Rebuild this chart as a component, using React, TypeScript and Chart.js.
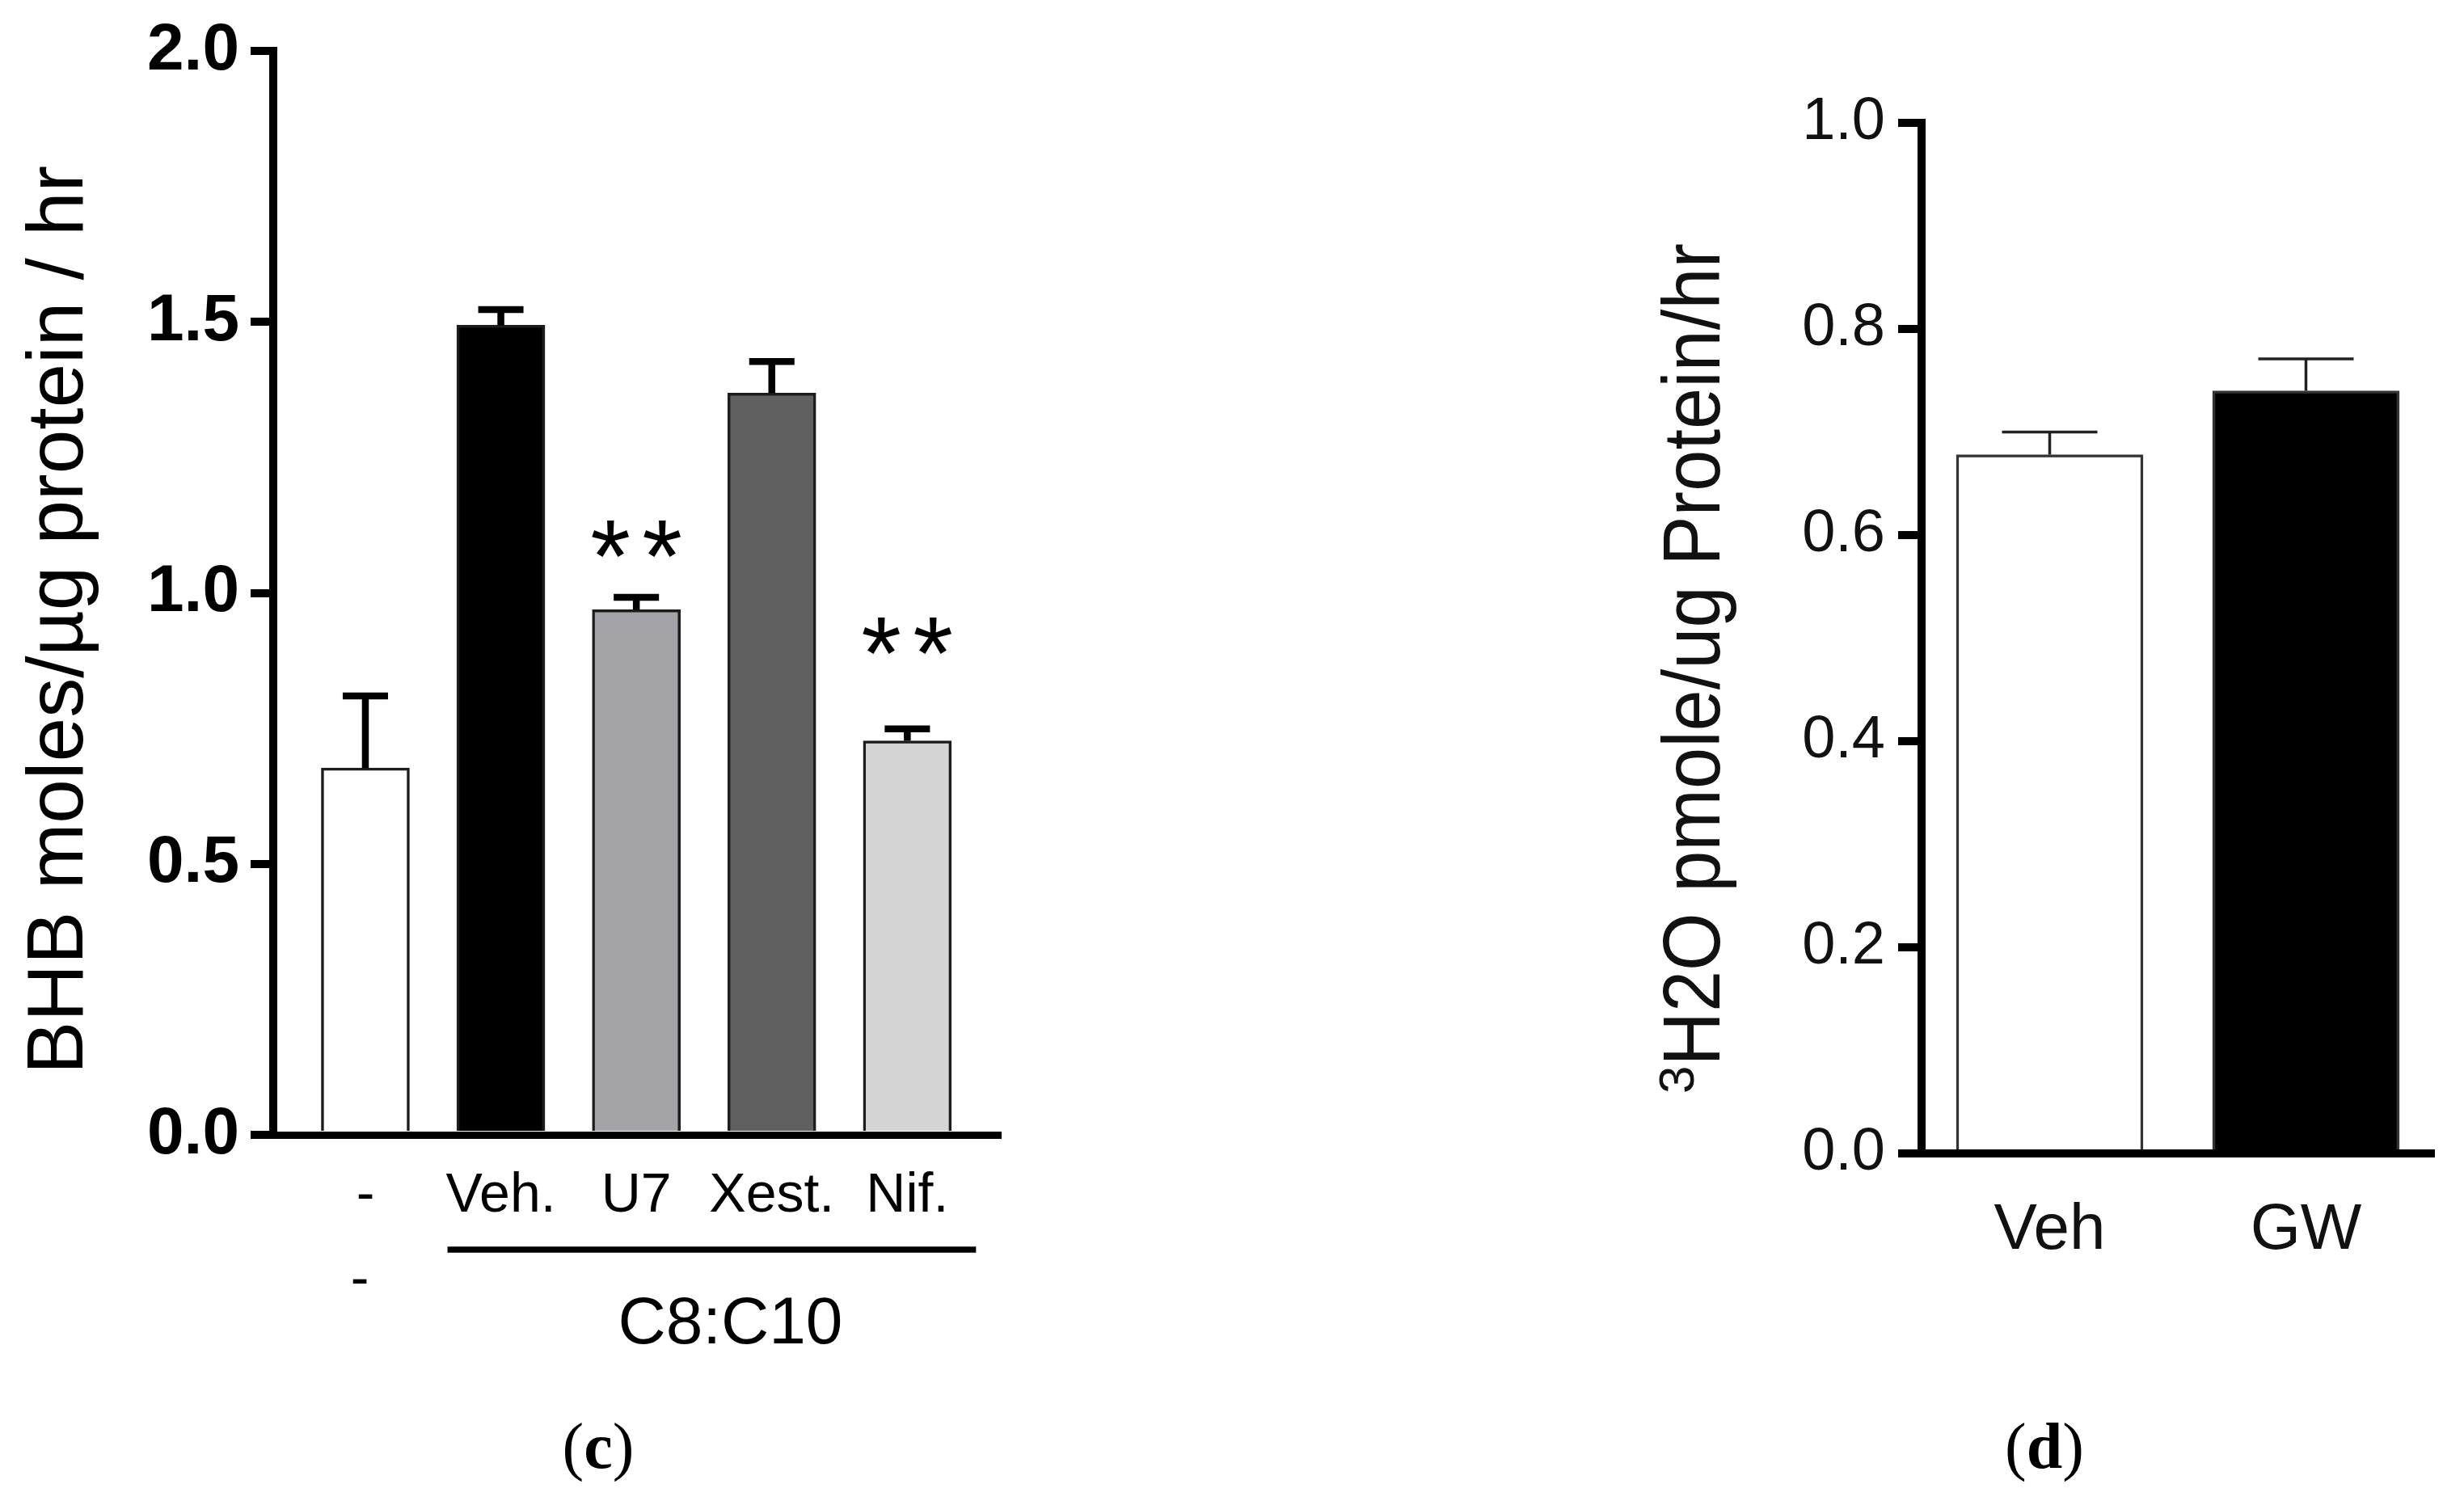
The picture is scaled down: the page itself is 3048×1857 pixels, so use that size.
import React, { useEffect, useRef } from 'react';
import { Chart, registerables } from 'chart.js';

Chart.register(...registerables);

const SANS = "'Liberation Sans', Arial, sans-serif";
const SERIF = "'Liberation Serif', 'Times New Roman', serif";

// panel (c): BHB production
const groupsC = ['-', 'Veh.', 'U7', 'Xest.', 'Nif.'];
const meanC = [0.677, 1.494, 0.969, 1.369, 0.727];
const errTopC = [0.81, 1.523, 0.992, 1.427, 0.749];
const sigC: (number | null)[] = [null, null, 1.1, null, 0.92];
const ticksC = [0, 0.5, 1.0, 1.5, 2.0];
const fillC = ['#ffffff', '#000000', '#a3a3a8', '#606060', '#d4d4d4'];

// panel (d): 3H2O release
const groupsD = ['Veh', 'GW'];
const meanD = [0.678, 0.74];
const errTopD = [0.7, 0.771];
const ticksD = [0, 0.2, 0.4, 0.6, 0.8, 1.0];
const fillD = ['#ffffff', '#000000'];

// error bars (upper half only, like Prism)
const makeErrorBars = (tops: number[], lineWidth: number, cap: number, color: string) => ({
  id: 'errorBars',
  afterDatasetsDraw(chart: any) {
    const { ctx } = chart;
    const y = chart.scales.y;
    const meta = chart.getDatasetMeta(0);
    ctx.save();
    ctx.strokeStyle = color;
    ctx.lineWidth = lineWidth;
    meta.data.forEach((bar: any, i: number) => {
      const top = y.getPixelForValue(tops[i]);
      ctx.beginPath();
      ctx.moveTo(bar.x, bar.y);
      ctx.lineTo(bar.x, top);
      ctx.moveTo(bar.x - cap / 2, top);
      ctx.lineTo(bar.x + cap / 2, top);
      ctx.stroke();
    });
    ctx.restore();
  },
});

const drawPanelLetter = (ctx: CanvasRenderingContext2D, letter: string, cx: number, baseline: number) => {
  const normal = `80px ${SERIF}`;
  const bold = `bold 80px ${SERIF}`;
  ctx.font = normal;
  const wp = ctx.measureText('(').width;
  const wq = ctx.measureText(')').width;
  ctx.font = bold;
  const wl = ctx.measureText(letter).width;
  let x = cx - (wp + wl + wq) / 2;
  ctx.textAlign = 'left';
  ctx.textBaseline = 'alphabetic';
  ctx.font = normal;
  ctx.fillText('(', x, baseline);
  x += wp;
  ctx.font = bold;
  ctx.fillText(letter, x, baseline);
  x += wl;
  ctx.font = normal;
  ctx.fillText(')', x, baseline);
};

const extrasC = {
  id: 'extrasC',
  afterDraw(chart: any) {
    const { ctx } = chart;
    const xs = chart.scales.x;
    const ys = chart.scales.y;
    const meta = chart.getDatasetMeta(0);
    ctx.save();
    ctx.fillStyle = '#000';
    ctx.strokeStyle = '#000';

    // y title
    ctx.save();
    ctx.translate(102, 767);
    ctx.rotate(-Math.PI / 2);
    ctx.font = `98px ${SANS}`;
    ctx.textAlign = 'center';
    ctx.textBaseline = 'alphabetic';
    ctx.fillText('BHB moles/µg protein / hr', 0, 0);
    ctx.restore();

    // significance stars
    ctx.font = `100px ${SANS}`;
    const m0 = ctx.measureText('*');
    const size = (100 * 46) / (m0.actualBoundingBoxAscent + m0.actualBoundingBoxDescent);
    ctx.font = `${size}px ${SANS}`;
    const m = ctx.measureText('*');
    ctx.textAlign = 'left';
    ctx.textBaseline = 'alphabetic';
    sigC.forEach((lvl, i) => {
      if (lvl == null) return;
      const cy = ys.getPixelForValue(lvl);
      const bx = meta.data[i].x;
      [-32, 32].forEach((dx) => {
        const x = bx + dx - (m.actualBoundingBoxRight - m.actualBoundingBoxLeft) / 2;
        const y = cy + (m.actualBoundingBoxAscent - m.actualBoundingBoxDescent) / 2;
        ctx.fillText('*', x, y);
      });
    });

    // treatment bracket
    const x1 = xs.getPixelForValue(1) - 66;
    const x2 = xs.getPixelForValue(4) + 85;
    ctx.lineWidth = 7.5;
    ctx.beginPath();
    ctx.moveTo(x1, 1546);
    ctx.lineTo(x2, 1546);
    ctx.stroke();

    ctx.textAlign = 'center';
    ctx.font = `68px ${SANS}`;
    ctx.fillText('-', xs.getPixelForValue(0) - 7, 1604);
    ctx.font = `82px ${SANS}`;
    ctx.fillText('C8:C10', (x1 + x2) / 2 + 23, 1662);

    drawPanelLetter(ctx, 'c', 740, 1816);
    ctx.restore();
  },
};

const extrasD = {
  id: 'extrasD',
  afterDraw(chart: any) {
    const { ctx } = chart;
    ctx.save();
    ctx.fillStyle = '#111';
    ctx.translate(127, 1353);
    ctx.rotate(-Math.PI / 2);
    ctx.textAlign = 'left';
    ctx.textBaseline = 'alphabetic';
    ctx.font = `62px ${SANS}`;
    ctx.fillText('3', 0, -32);
    const w3 = ctx.measureText('3').width;
    ctx.translate(w3, 0);
    ctx.scale(0.92, 1);
    ctx.font = `100px ${SANS}`;
    ctx.fillText('H2O pmole/ug Protein/hr', 0, 0);
    ctx.restore();

    ctx.save();
    ctx.fillStyle = '#000';
    drawPanelLetter(ctx, 'd', 529, 1816);
    ctx.restore();
  },
};

const PanelC = () => {
  const ref = useRef<HTMLCanvasElement>(null);
  const inst = useRef<Chart | null>(null);

  useEffect(() => {
    if (!ref.current) return;
    inst.current = new Chart(ref.current, {
      type: 'bar',
      data: {
        datasets: [
          {
            data: meanC.map((v, i) => ({ x: i, y: v })),
            backgroundColor: fillC,
            borderColor: '#1c1c1c',
            borderWidth: 3.5,
            barThickness: 109,
          },
        ],
      },
      options: {
        responsive: false,
        animation: false,
        layout: { padding: { top: 62.5, left: 0, right: 62, bottom: 303 } },
        plugins: { legend: { display: false }, tooltip: { enabled: false } },
        scales: {
          x: {
            type: 'linear',
            offset: false,
            min: -0.68,
            max: 4.69,
            afterBuildTicks: (s: any) => {
              s.ticks = groupsC.map((_, i) => ({ value: i }));
            },
            afterFit: (s: any) => {
              s.height = 150;
            },
            ticks: {
              autoSkip: false,
              maxRotation: 0,
              padding: 35,
              color: '#000',
              font: { family: SANS, size: 68 },
              callback: (v: any) => groupsC[v] ?? '',
            },
            grid: { display: false, drawTicks: false, tickLength: 0, offset: false },
            border: { display: true, color: '#000', width: 9 },
            z: 1,
          },
          y: {
            min: 0,
            max: 2,
            afterBuildTicks: (s: any) => {
              s.ticks = ticksC.map((v) => ({ value: v }));
            },
            afterFit: (s: any) => {
              s.width = 338;
            },
            ticks: {
              color: '#000',
              padding: 14,
              font: { family: SANS, size: 82, weight: 'bold' },
              callback: (v: any) => Number(v).toFixed(1),
            },
            grid: { drawOnChartArea: false, drawTicks: true, tickLength: 28, lineWidth: 10, color: '#000' },
            border: { color: '#000', width: 10 },
            z: 1,
          },
        },
      } as any,
      plugins: [makeErrorBars(errTopC, 8.5, 56, '#000'), extrasC],
    });
    return () => {
      if (inst.current) inst.current.destroy();
    };
  }, []);

  return <canvas ref={ref} width={1300} height={1857} style={{ position: 'absolute', left: 0, top: 0 }} />;
};

const PanelD = () => {
  const ref = useRef<HTMLCanvasElement>(null);
  const inst = useRef<Chart | null>(null);

  useEffect(() => {
    if (!ref.current) return;
    inst.current = new Chart(ref.current, {
      type: 'bar',
      data: {
        labels: groupsD,
        datasets: [
          {
            data: meanD,
            backgroundColor: fillD,
            borderColor: '#333',
            borderWidth: 3.5,
            barThickness: 231,
          },
        ],
      },
      options: {
        responsive: false,
        animation: false,
        layout: { padding: { top: 152, left: 0, right: 37, bottom: 280 } },
        plugins: { legend: { display: false }, tooltip: { enabled: false } },
        scales: {
          x: {
            afterFit: (s: any) => {
              s.height = 150;
            },
            ticks: { padding: 48, color: '#111', font: { family: SANS, size: 80 } },
            grid: { display: false, drawTicks: false, tickLength: 0 },
            border: { display: true, color: '#000', width: 10 },
            z: 1,
          },
          y: {
            min: 0,
            max: 1,
            afterBuildTicks: (s: any) => {
              s.ticks = ticksD.map((v) => ({ value: v }));
            },
            afterFit: (s: any) => {
              s.width = 377;
            },
            ticks: {
              color: '#111',
              padding: 16,
              font: { family: SANS, size: 74 },
              callback: (v: any) => Number(v).toFixed(1),
            },
            grid: { drawOnChartArea: false, drawTicks: true, tickLength: 29, lineWidth: 10, color: '#000' },
            border: { color: '#000', width: 10 },
            z: 1,
          },
        },
      } as any,
      plugins: [makeErrorBars(errTopD, 3.5, 118, '#222'), extrasD],
    });
    return () => {
      if (inst.current) inst.current.destroy();
    };
  }, []);

  return <canvas ref={ref} width={1048} height={1857} style={{ position: 'absolute', left: 2000, top: 0 }} />;
};

export default function App() {
  return (
    <div style={{ position: 'absolute', left: 0, top: 0, width: 3048, height: 1857, background: '#fff', overflow: 'hidden' }}>
      <PanelC />
      <PanelD />
    </div>
  );
}
